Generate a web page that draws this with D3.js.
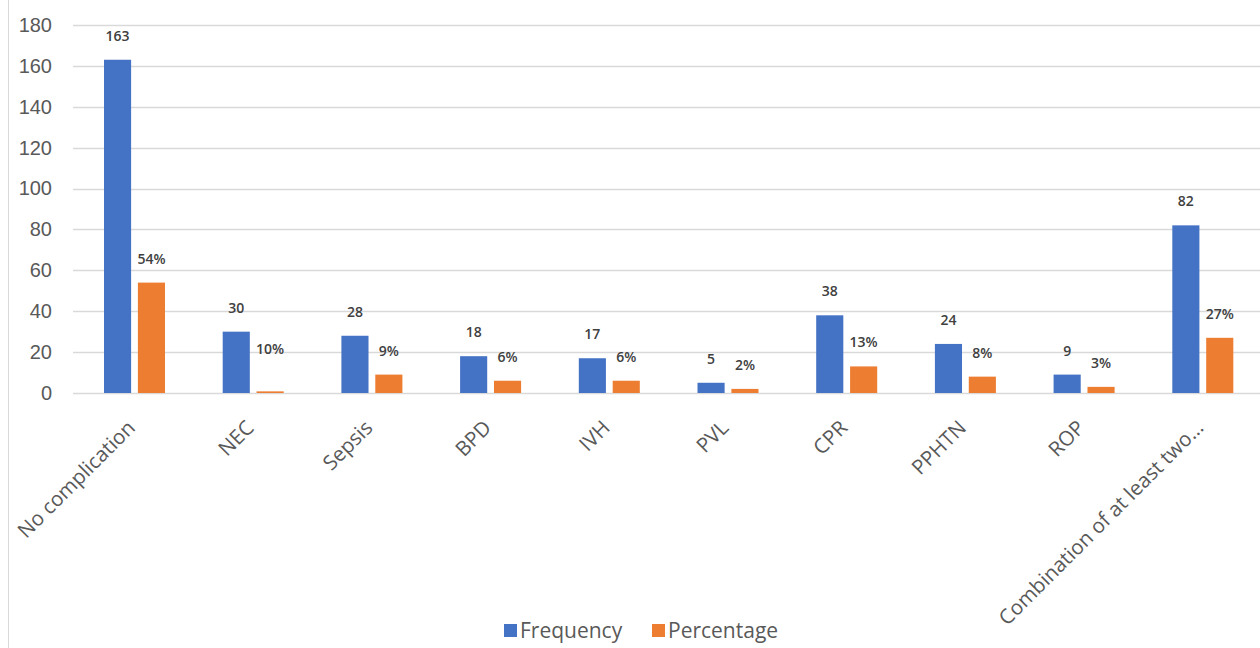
<!DOCTYPE html>
<html>
<head>
<meta charset="utf-8">
<script src="https://cdn.jsdelivr.net/npm/d3@7"></script>
<style>
  body { margin: 0; background: #fff; }
  svg { font-family: "Open Sans", "Noto Sans", sans-serif; }
</style>
</head>
<body>
<svg id="chart" width="1260" height="648"></svg>
<script>
'use strict';

var categories = ['No complication', 'NEC', 'Sepsis', 'BPD', 'IVH', 'PVL', 'CPR', 'PPHTN', 'ROP', 'Combination of at least two\u2026'];
var frequency = [163, 30, 28, 18, 17, 5, 38, 24, 9, 82];
var percentage = [54, 0.8, 9, 6, 6, 2, 13, 8, 3, 27];
var percentLabels = ['54%', '10%', '9%', '6%', '6%', '2%', '13%', '8%', '3%', '27%'];
var yTicks = [0, 20, 40, 60, 80, 100, 120, 140, 160, 180];
var seriesNames = ['Frequency', 'Percentage'];
var colors = ['#4472C4', '#ED7D31'];

var svg = d3.select('#chart');

// outer frame edge on the left
svg.append('line')
  .attr('x1', 8.5).attr('x2', 8.5).attr('y1', 0).attr('y2', 648)
  .attr('stroke', '#d9d9d9');

var x = d3.scaleBand().domain(categories).range([73, 1260]);
var sub = d3.scaleBand().domain(seriesNames).range([31, 92]).paddingInner(0.2);
var y = d3.scaleLinear().domain([0, 180]).range([393, 25]);

// gridlines
svg.append('g').selectAll('line')
  .data(yTicks)
  .enter().append('line')
  .attr('x1', 73).attr('x2', 1260)
  .attr('y1', function (d) { return Math.round(y(d)) + 0.5; })
  .attr('y2', function (d) { return Math.round(y(d)) + 0.5; })
  .attr('stroke', '#d9d9d9').attr('stroke-width', 1.3);

var yAxis = svg.append('g')
  .attr('transform', 'translate(60,0)')
  .call(d3.axisLeft(y).tickValues(yTicks).tickSize(0).tickPadding(8));
yAxis.select('.domain').remove();
yAxis.selectAll('text')
  .attr('fill', '#595959').attr('font-size', 20);

var rows = categories.map(function (c, i) {
  return { cat: c, vals: [frequency[i], percentage[i]], labels: [String(frequency[i]), percentLabels[i]] };
});

var groups = svg.append('g').selectAll('g')
  .data(rows)
  .enter().append('g')
  .attr('transform', function (d) { return 'translate(' + x(d.cat) + ',0)'; });

groups.selectAll('rect')
  .data(function (d) { return d.vals.map(function (v, j) { return { v: v, j: j }; }); })
  .enter().append('rect')
  .attr('x', function (d) { return sub(seriesNames[d.j]); })
  .attr('width', sub.bandwidth())
  .attr('y', function (d) { return y(d.v); })
  .attr('height', function (d) { return y(0) - y(d.v); })
  .attr('fill', function (d) { return colors[d.j]; });

groups.selectAll('text.val')
  .data(function (d) { return d.vals.map(function (v, j) { return { v: v, j: j, t: d.labels[j], real: j === 1 ? parseFloat(d.labels[1]) : v }; }); })
  .enter().append('text')
  .attr('class', 'val')
  .attr('x', function (d) { return sub(seriesNames[d.j]) + sub.bandwidth() / 2; })
  .attr('y', function (d) { return y(d.real) - 19; })
  .attr('text-anchor', 'middle')
  .attr('font-size', 14).attr('font-weight', 600)
  .attr('fill', '#404040')
  .text(function (d) { return d.t; });

// rotated category labels
svg.append('g').selectAll('text')
  .data(categories)
  .enter().append('text')
  .attr('transform', function (d) {
    var cx = x(d) + x.bandwidth() / 2 - 1;
    return 'translate(' + cx + ',424) rotate(-45)';
  })
  .attr('text-anchor', 'end')
  .attr('dy', '0.35em')
  .attr('font-size', 20.5)
  .attr('fill', '#595959')
  .text(function (d) { return d; });

// legend
var legend = svg.append('g').attr('transform', 'translate(504,631)');
var items = [{ name: 'Frequency', x: 0 }, { name: 'Percentage', x: 148 }];
items.forEach(function (it, i) {
  legend.append('rect')
    .attr('x', it.x).attr('y', -7).attr('width', 13).attr('height', 13)
    .attr('fill', colors[i]);
  legend.append('text')
    .attr('x', it.x + 16).attr('y', 0).attr('dy', '0.35em')
    .attr('font-size', 21).attr('fill', '#595959')
    .text(it.name);
});
</script>
</body>
</html>
